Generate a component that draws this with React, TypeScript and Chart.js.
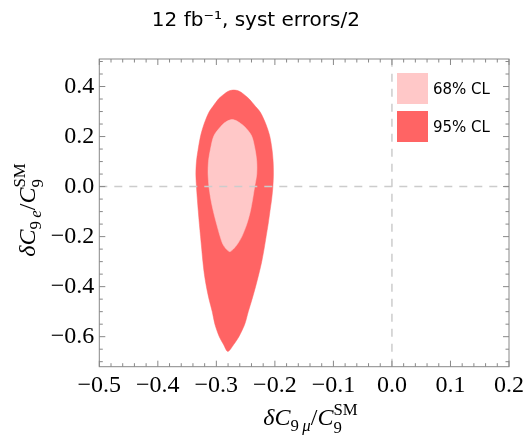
import React, { useEffect, useRef } from 'react';
import { Chart, registerables } from 'chart.js';

Chart.register(...registerables);

// ---- data ----
const TITLE = '12 fb\u207B\u00B9, syst errors/2';
const X_MIN = -0.5;
const X_MAX = 0.2;
const Y_MIN = -0.72;
const Y_MAX = 0.51;
const X_TICKS = [-0.5, -0.4, -0.3, -0.2, -0.1, 0.0, 0.1, 0.2];
const Y_TICKS = [-0.6, -0.4, -0.2, 0.0, 0.2, 0.4];
const X_MINOR_STEP = 0.02;
const Y_MINOR_STEP = 0.05;

// 95% CL contour (closed loop: left side up, over the top, right side down, tip, left side up)
const CL95_X = [
  -0.334, -0.335, -0.334, -0.331, -0.3268, -0.321, -0.3127, -0.306, -0.2957, -0.2855, -0.2787,
  -0.2702,
  -0.2617, -0.2549, -0.2447, -0.233, -0.2248, -0.2155, -0.209, -0.205, -0.203, -0.2025, -0.2034,
  -0.2055, -0.2085, -0.2115, -0.215, -0.2185, -0.2225, -0.2275, -0.233, -0.239, -0.2455,
  -0.2515, -0.2615, -0.27,
  -0.2804,
  -0.288, -0.295, -0.3025, -0.307, -0.3125, -0.317, -0.3205, -0.323, -0.325, -0.327,
  -0.329, -0.3308, -0.3325, -0.334,
];
const CL95_Y = [
  0.0, 0.05, 0.1, 0.15, 0.204, 0.25, 0.297, 0.32, 0.352, 0.372, 0.382,
  0.386,
  0.382, 0.372, 0.352, 0.32, 0.297, 0.25, 0.204, 0.15, 0.1, 0.05, 0.0,
  -0.05, -0.1, -0.15, -0.2, -0.25, -0.3, -0.35, -0.4, -0.45, -0.5,
  -0.55, -0.6, -0.63,
  -0.659,
  -0.63, -0.6, -0.55, -0.5, -0.45, -0.4, -0.35, -0.3, -0.25, -0.2,
  -0.15, -0.1, -0.05, 0.0,
];

// 68% CL contour (closed loop)
const CL68_X = [
  -0.3127, -0.3142, -0.3135, -0.31, -0.304, -0.2925, -0.287, -0.2805,
  -0.2731,
  -0.2655, -0.259, -0.252, -0.24, -0.234, -0.231, -0.231, -0.2345,
  -0.238, -0.242, -0.248, -0.2565, -0.264, -0.271,
  -0.277,
  -0.283, -0.289, -0.2935, -0.2995, -0.305, -0.3095, -0.3127,
];
const CL68_Y = [
  0.0, 0.05, 0.1, 0.15, 0.204, 0.24, 0.253, 0.263,
  0.268,
  0.263, 0.253, 0.24, 0.204, 0.15, 0.1, 0.05, 0.0,
  -0.05, -0.1, -0.15, -0.2, -0.23, -0.25,
  -0.26,
  -0.25, -0.23, -0.2, -0.15, -0.1, -0.05, 0.0,
];

const LEGEND_LABELS = ['68% CL', '95% CL'];

// ---- styles ----
const COLOR_68 = 'rgb(255,200,200)';
const COLOR_95 = 'rgb(255,100,100)';
const DASH_COLOR = 'rgb(204,204,204)';
const FRAME_COLOR = '#888888';

const toPoints = (xs: number[], ys: number[]) => xs.map((x, i) => ({ x, y: ys[i] }));
const fmt = (v: number) => (v < -1e-9 ? '\u2212' : '') + Math.abs(v).toFixed(1);

const framePlugin = {
  id: 'frameTicks',
  afterDatasetsDraw(chart: any) {
    const { ctx, chartArea: a, scales } = chart;
    const xs = scales.x;
    const ys = scales.y;
    ctx.save();
    ctx.strokeStyle = FRAME_COLOR;
    ctx.lineWidth = 1;
    const line = (x1: number, y1: number, x2: number, y2: number) => {
      ctx.beginPath();
      ctx.moveTo(x1, y1);
      ctx.lineTo(x2, y2);
      ctx.stroke();
    };
    const isMajor = (v: number, majors: number[]) => majors.some((m) => Math.abs(m - v) < 1e-6);
    for (let k = Math.ceil(X_MIN / X_MINOR_STEP - 1e-6); k * X_MINOR_STEP <= X_MAX + 1e-6; k++) {
      const v = k * X_MINOR_STEP;
      const len = isMajor(v, X_TICKS) ? 6 : 3.5;
      const px = xs.getPixelForValue(v);
      line(px, a.bottom, px, a.bottom - len);
      line(px, a.top, px, a.top + len);
    }
    for (let k = Math.ceil(Y_MIN / Y_MINOR_STEP - 1e-6); k * Y_MINOR_STEP <= Y_MAX + 1e-6; k++) {
      const v = k * Y_MINOR_STEP;
      const len = isMajor(v, Y_TICKS) ? 6 : 3.5;
      const py = ys.getPixelForValue(v);
      line(a.left, py, a.left + len, py);
      line(a.right, py, a.right - len, py);
    }
    ctx.strokeRect(a.left, a.top, a.right - a.left, a.bottom - a.top);
    ctx.restore();
  },
};

const serif = '"Liberation Serif", "Times New Roman", serif';
const sans = '"DejaVu Sans", sans-serif';

function SubSup({ sup, sub }: { sup: string; sub: string }) {
  return (
    <span style={{ display: 'inline-block', position: 'relative', fontSize: '0.7em', fontStyle: 'normal' }}>
      <span style={{ position: 'relative', top: '-0.62em' }}>{sup}</span>
      <span style={{ position: 'absolute', left: 0, top: '0.48em' }}>{sub}</span>
    </span>
  );
}

function AxisLabel({ sub }: { sub: string }) {
  return (
    <>
      <span style={{ fontStyle: 'italic' }}>{'\u03B4C'}</span>
      <span style={{ fontSize: '0.7em', position: 'relative', top: '0.35em' }}>
        9{'\u2009'}
        <span style={{ fontStyle: 'italic' }}>{sub}</span>
      </span>
      <span>/</span>
      <span style={{ fontStyle: 'italic' }}>C</span>
      <SubSup sup="SM" sub="9" />
    </>
  );
}

export default function App() {
  const canvasRef = useRef<HTMLCanvasElement | null>(null);

  useEffect(() => {
    const canvas = canvasRef.current;
    if (!canvas) return;
    const chart = new Chart(canvas, {
      type: 'scatter',
      data: {
        datasets: [
          {
            label: 'zero-x',
            data: [
              { x: 0, y: Y_MIN },
              { x: 0, y: Y_MAX },
            ],
            showLine: true,
            borderColor: DASH_COLOR,
            borderWidth: 1.5,
            borderDash: [8, 7],
            pointRadius: 0,
            fill: false,
            order: 0,
          },
          {
            label: 'zero-y',
            data: [
              { x: X_MIN, y: 0 },
              { x: X_MAX, y: 0 },
            ],
            showLine: true,
            borderColor: DASH_COLOR,
            borderWidth: 1.5,
            borderDash: [8, 7],
            pointRadius: 0,
            fill: false,
            order: 0,
          },
          {
            label: LEGEND_LABELS[0],
            data: toPoints(CL68_X, CL68_Y),
            showLine: true,
            borderColor: COLOR_68,
            backgroundColor: COLOR_68,
            borderWidth: 0.5,
            pointRadius: 0,
            tension: 0.3,
            fill: 'shape',
            order: 1,
          },
          {
            label: LEGEND_LABELS[1],
            data: toPoints(CL95_X, CL95_Y),
            showLine: true,
            borderColor: COLOR_95,
            backgroundColor: COLOR_95,
            borderWidth: 0.5,
            pointRadius: 0,
            tension: 0.3,
            fill: 'shape',
            order: 2,
          },
        ],
      } as any,
      options: {
        animation: false,
        responsive: false,
        events: [],
        layout: { padding: { left: 0, right: 17.3, top: 0, bottom: 0 } },
        plugins: {
          legend: { display: false },
          tooltip: { enabled: false },
          title: {
            display: true,
            text: TITLE,
            color: '#000',
            font: { family: sans, size: 20, weight: 'normal', lineHeight: 1.2 },
            padding: { top: 9, bottom: 26 },
          },
        },
        scales: {
          x: {
            type: 'linear',
            min: X_MIN,
            max: X_MAX,
            afterBuildTicks: (s: any) => {
              s.ticks = X_TICKS.map((v) => ({ value: v }));
            },
            afterFit: (s: any) => {
              s.height = 70.3;
            },
            grid: { display: false, drawTicks: false },
            border: { display: false },
            ticks: {
              color: '#000',
              font: { family: serif, size: 24 },
              padding: 5,
              maxRotation: 0,
              autoSkip: false,
              callback: (v: any) => fmt(Number(v)),
            },
          },
          y: {
            type: 'linear',
            min: Y_MIN,
            max: Y_MAX,
            afterBuildTicks: (s: any) => {
              s.ticks = Y_TICKS.map((v) => ({ value: v }));
            },
            afterFit: (s: any) => {
              s.width = 99.3;
            },
            grid: { display: false, drawTicks: false },
            border: { display: false },
            ticks: {
              color: '#000',
              font: { family: serif, size: 24 },
              padding: 5,
              autoSkip: false,
              callback: (v: any) => fmt(Number(v)),
            },
          },
        },
      } as any,
      plugins: [framePlugin],
    });
    return () => chart.destroy();
  }, []);

  const legendColors = [COLOR_68, COLOR_95];

  return (
    <div style={{ position: 'absolute', left: 0, top: 0, width: 529, height: 437, background: '#fff' }}>
      <canvas ref={canvasRef} width={529} height={437} style={{ display: 'block', width: 529, height: 437 }} />
      {LEGEND_LABELS.map((lab, i) => (
        <div
          key={lab}
          style={{
            position: 'absolute',
            left: 397,
            top: 73 + i * 38,
            height: 31,
            display: 'flex',
            alignItems: 'center',
            fontFamily: sans,
            fontSize: 15,
            color: '#000',
            whiteSpace: 'nowrap',
          }}
        >
          <span style={{ display: 'inline-block', width: 31, height: 31, background: legendColors[i], marginRight: 5 }} />
          <span>{lab}</span>
        </div>
      ))}
      <div
        style={{
          position: 'absolute',
          left: 104,
          width: 413,
          top: 405,
          height: 24,
          lineHeight: '24px',
          textAlign: 'center',
          fontFamily: serif,
          fontSize: 24,
          color: '#000',
          whiteSpace: 'nowrap',
        }}
      >
        <AxisLabel sub={'\u03BC'} />
      </div>
      <div
        style={{
          position: 'absolute',
          left: 27 - 150,
          width: 300,
          top: 210 - 12,
          height: 24,
          lineHeight: '24px',
          textAlign: 'center',
          fontFamily: serif,
          fontSize: 24,
          color: '#000',
          whiteSpace: 'nowrap',
          transform: 'rotate(-90deg)',
        }}
      >
        <AxisLabel sub="e" />
      </div>
    </div>
  );
}
